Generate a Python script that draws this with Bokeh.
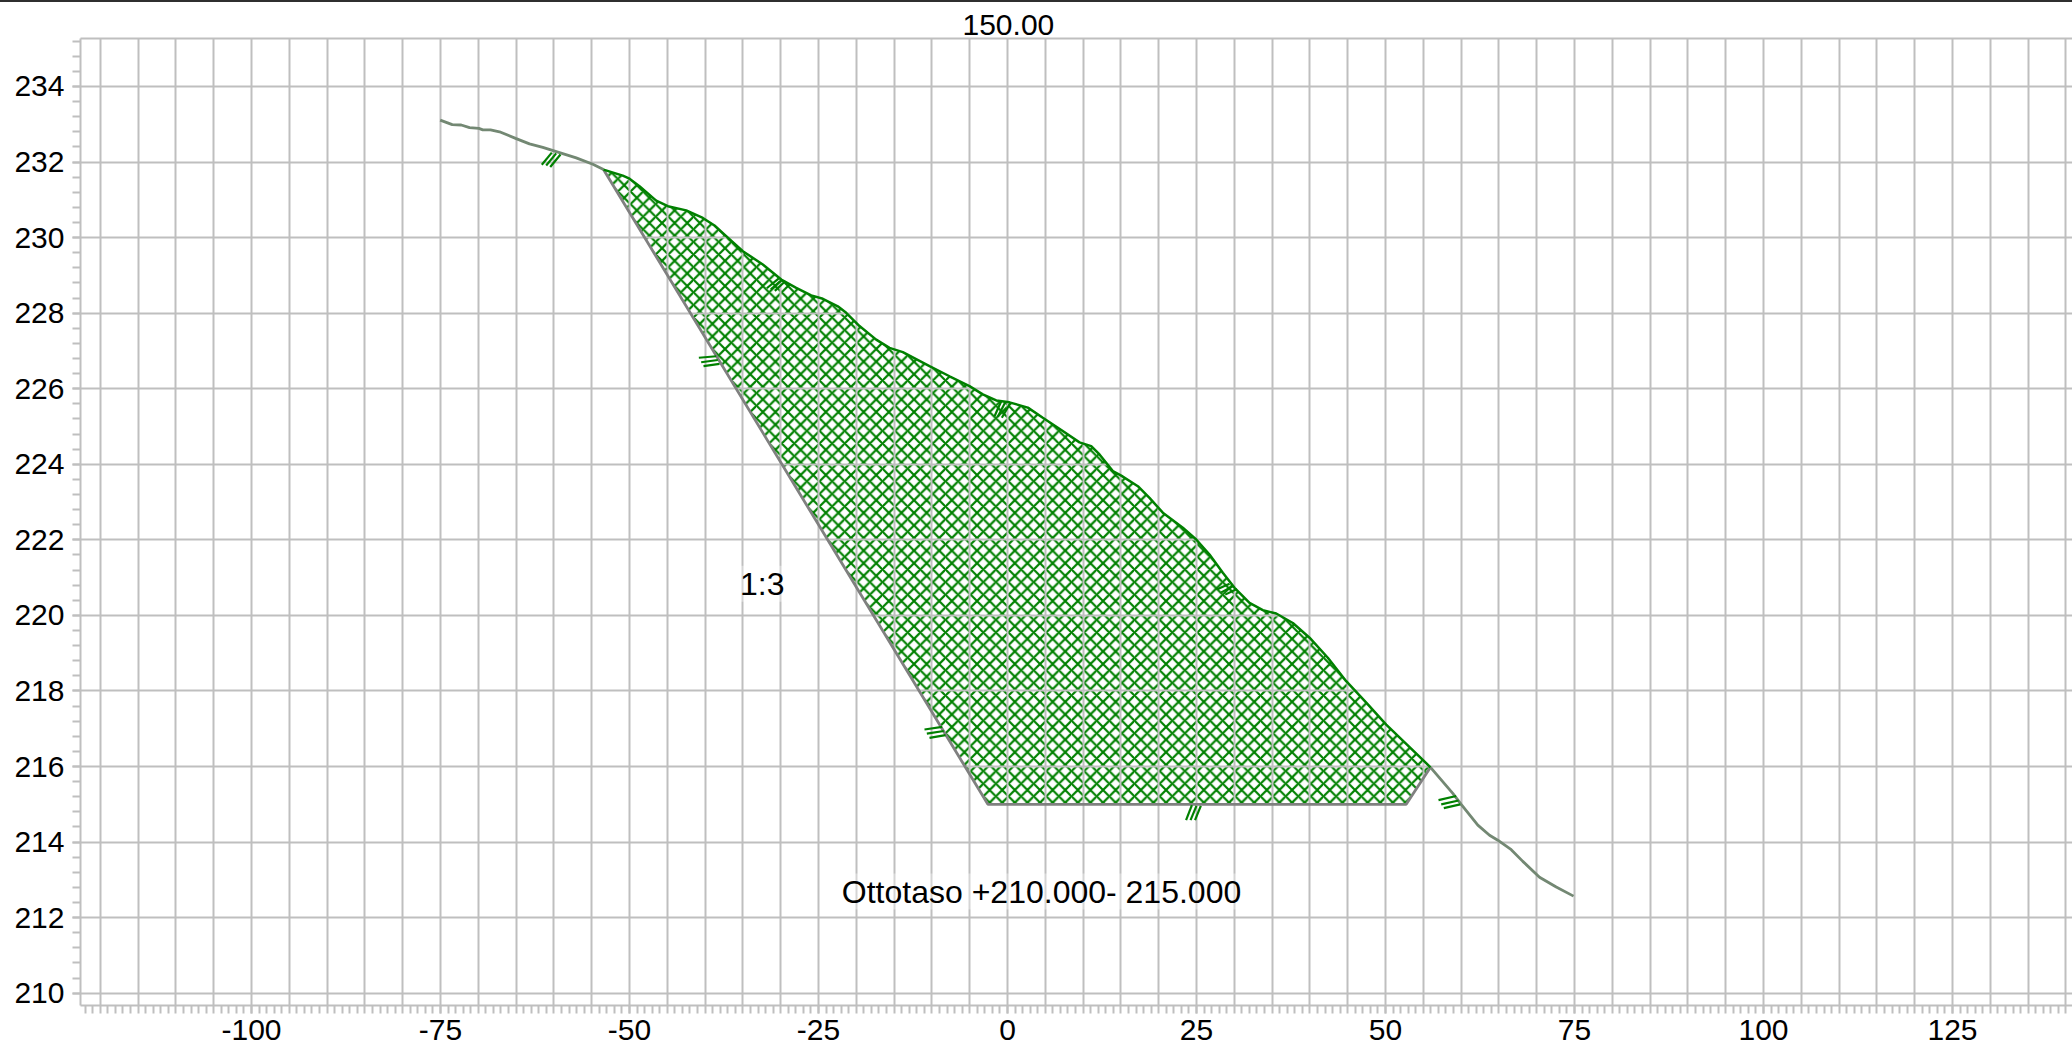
from bokeh.embed import file_html
from bokeh.resources import INLINE
from bokeh.plotting import figure
from bokeh.layouts import column
from bokeh.models import FixedTicker, LinearAxis, Label, Title, Div

x_labels = [-100, -75, -50, -25, 0, 25, 50, 75, 100, 125]
y_labels = list(range(210, 236, 2))
x_grid = list(range(-120, 141, 5))
x_minor = list(range(-122, 141))
y_minor = [round(210 + 0.4 * i, 1) for i in range(64)]

terrain_left_x = [-75.04, -73.45, -72.26, -71.16, -69.93, -69.4, -68.39, -67.2, -64.99, -63.23, -61.47, -59.26, -57.05, -54.85, -53.44]
terrain_left_y = [233.11, 232.99, 232.98, 232.91, 232.89, 232.85, 232.85, 232.80, 232.62, 232.48, 232.39, 232.25, 232.11, 231.94, 231.80]

ground_x = [-53.44, -50.89, -50.0, -48.68, -46.47, -44.93, -42.5, -40.3, -38.76, -37.21, -35.01, -32.37, -29.93, -27.95, -25.97, -24.43, -22.45, -21.34, -19.58, -17.37, -15.61, -13.85, -10.32, -7.67, -5.03, -3.27, -1.49, 0.26, 2.69, 4.67, 7.31, 9.52, 11.07, 12.17, 13.93, 15.04, 17.24, 18.78, 20.54, 23.19, 24.96, 26.72, 28.48, 30.03, 32.01, 33.77, 35.54, 37.74, 39.95, 42.37, 44.80, 47.45, 50.09, 55.95]
ground_y = [231.80, 231.64, 231.56, 231.36, 230.98, 230.83, 230.72, 230.52, 230.32, 230.04, 229.64, 229.29, 228.89, 228.67, 228.47, 228.38, 228.18, 228.01, 227.66, 227.30, 227.08, 226.97, 226.60, 226.33, 226.07, 225.85, 225.69, 225.64, 225.50, 225.23, 224.88, 224.58, 224.48, 224.26, 223.82, 223.70, 223.42, 223.11, 222.72, 222.32, 222.01, 221.61, 221.13, 220.73, 220.33, 220.14, 220.05, 219.80, 219.41, 218.88, 218.26, 217.69, 217.11, 215.98]

excavation_x = [-53.44, -2.6, 52.74, 55.95]
excavation_y = [231.80, 215.0, 215.0, 215.98]

terrain_right_x = [55.95, 58.90, 60.01, 62.21, 63.76, 64.85, 66.63, 68.16, 70.37, 72.58, 74.87]
terrain_right_y = [215.98, 215.29, 215.0, 214.45, 214.18, 214.05, 213.80, 213.49, 213.07, 212.81, 212.57]

marks_x = [
    [-61.6, -60.28], [-61.02, -59.7], [-60.49, -59.13],
    [-31.84, -30.25], [-31.31, -29.8], [-30.78, -29.37],
    [-40.83, -38.53], [-40.52, -38.32], [-40.21, -38.1],
    [-1.72, -0.83], [-1.28, -0.3], [-0.75, 0.36],
    [27.74, 29.37], [28.27, 29.8], [28.8, 30.33],
    [-10.98, -8.64], [-10.67, -8.43], [-10.32, -8.2],
    [23.62, 24.39], [24.21, 24.99], [24.8, 25.57],
    [57.01, 59.35], [57.37, 59.66], [57.71, 59.88],
]
marks_y = [
    [231.93, 232.25], [231.91, 232.23], [231.87, 232.2],
    [228.66, 228.92], [228.63, 228.88], [228.59, 228.85],
    [226.82, 226.86], [226.70, 226.76], [226.60, 226.66],
    [225.27, 225.67], [225.26, 225.64], [225.23, 225.62],
    [220.69, 220.84], [220.61, 220.77], [220.55, 220.7],
    [216.98, 217.05], [216.87, 216.94], [216.76, 216.83],
    [214.58, 214.98], [214.58, 214.96], [214.58, 214.96],
    [215.11, 215.22], [215.0, 215.1], [214.9, 215.0],
]

GRID = "#bfbfbf"
GREEN = "#008000"

p = figure(width=2072, height=1053, output_backend="svg", toolbar_location=None,
           x_range=(-122.62, 140.87), y_range=(209.675, 235.27),
           min_border_left=80, min_border_right=0, min_border_top=36, min_border_bottom=50,
           background_fill_color="white", border_fill_color="white",
           outline_line_color=None, margin=0)

ax = p.xaxis[0]
ax.ticker = FixedTicker(ticks=x_labels, minor_ticks=x_minor)
ax.major_label_overrides = {v: str(v) for v in x_labels}
ay = p.yaxis[0]
ay.ticker = FixedTicker(ticks=y_labels, minor_ticks=y_minor)
for a in (ax, ay):
    a.axis_line_color = GRID
    a.axis_line_width = 2
    a.major_tick_line_color = GRID
    a.minor_tick_line_color = GRID
    a.major_tick_line_width = 2
    a.minor_tick_line_width = 2
    a.major_tick_in = 0
    a.minor_tick_in = 0
    a.major_tick_out = 8
    a.minor_tick_out = 8
    a.major_label_text_font = "Liberation Sans"
    a.major_label_text_font_size = "30px"
    a.major_label_text_color = "black"
ax.major_label_standoff = 6
ay.major_label_standoff = 8

top_axis = LinearAxis(ticker=FixedTicker(ticks=[]), axis_line_color=GRID, axis_line_width=2,
                      major_tick_line_color=None, minor_tick_line_color=None,
                      major_label_text_font_size="0px")
p.add_layout(top_axis, "above")
p.add_layout(Title(text="150.00", align="left", offset=882, standoff=8,
                   text_font="Liberation Sans", text_font_size="30px", text_font_style="normal",
                   text_color="black"), "above")

p.xgrid[0].ticker = FixedTicker(ticks=x_grid)
p.ygrid[0].ticker = FixedTicker(ticks=y_labels)
for g in (p.xgrid[0], p.ygrid[0]):
    g.grid_line_color = GRID
    g.grid_line_width = 2
    g.level = "guide"

p.patch(ground_x + excavation_x[::-1][1:], ground_y + excavation_y[::-1][1:],
        fill_color=None, line_color=None,
        hatch_pattern="x", hatch_color=GREEN, hatch_scale=12.6, hatch_weight=2.2)

p.line(terrain_left_x, terrain_left_y, line_color="#738873", line_width=2.8, level="overlay")
p.line(terrain_right_x, terrain_right_y, line_color="#738873", line_width=2.8, level="overlay")
p.line(excavation_x, excavation_y, line_color="#808080", line_width=2.8, level="overlay")
p.line(ground_x, ground_y, line_color=GREEN, line_width=2.5, level="overlay")
p.multi_line(marks_x, marks_y, line_color=GREEN, line_width=2.2, level="overlay")

p.add_layout(Label(x=-32.45, y=220.84, text="1:3", text_align="center", text_baseline="middle",
                   text_font="Liberation Sans", text_font_size="32px", text_color="black",
                   background_fill_color="white", background_fill_alpha=0.35))
p.add_layout(Label(x=4.5, y=212.69, text="Ottotaso +210.000- 215.000", text_align="center", text_baseline="middle",
                   text_font="Liberation Sans", text_font_size="32px", text_color="black",
                   background_fill_color="white", background_fill_alpha=0.35))

top_rule = Div(text="", width=2072, height=2, margin=0, styles={"background-color": "#2f2f2f"})
page = column(top_rule, p, spacing=0, margin=0)

open("out.html", "w").write(file_html(page, INLINE))
